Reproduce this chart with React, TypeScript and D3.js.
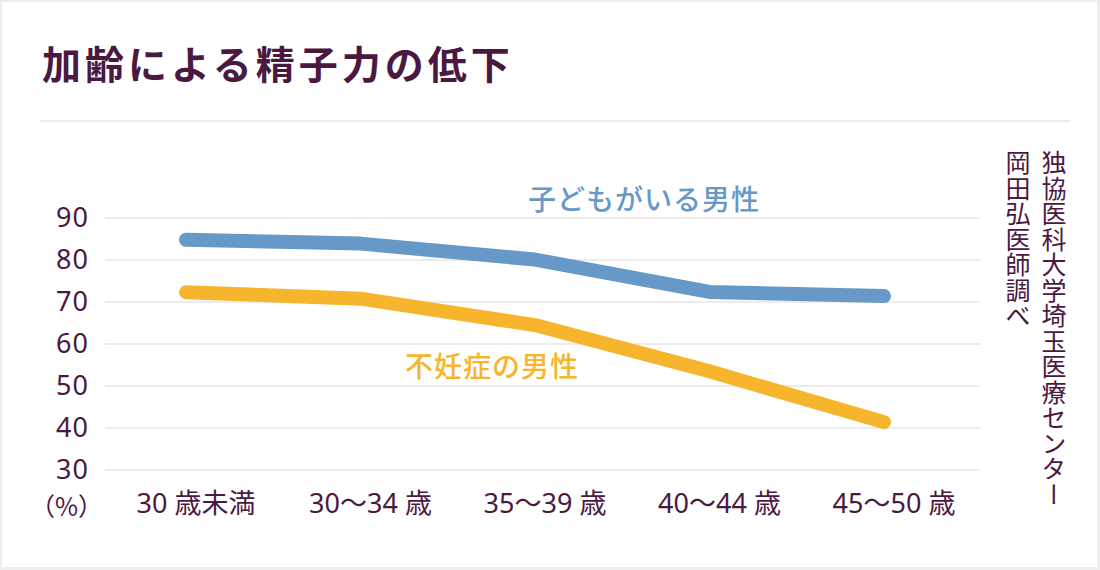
import React from "react";
import * as d3 from "d3";

const categories = ["30 歳未満", "30〜34 歳", "35〜39 歳", "40〜44 歳", "45〜50 歳"];
const fatherValues = [84.8, 83.9, 80.1, 72.4, 71.4];
const infertileValues = [72.3, 70.8, 64.5, 53.5, 41.4];
const yTicks = [30, 40, 50, 60, 70, 80, 90];
const seriesNames = ["子どもがいる男性", "不妊症の男性"];
const titleText = "加齢による精子力の低下";
const sourceLines = ["独協医科大学埼玉医療センター", "岡田弘医師調べ"];
const unitLabel = "（%）";

const W = 1100;
const H = 570;
const TEXT = "#4a1942";
const BLUE = "#6699c7";
const YELLOW = "#f7b52e";
const GRID = "#ececec";
const FONT = "'Noto Sans CJK JP', 'Noto Sans', sans-serif";
const NUM_FONT = "'Noto Sans', 'Noto Sans CJK JP', sans-serif";

export default function App() {
  const x = d3.scalePoint<string>().domain(categories).range([186, 884]);
  const y = d3.scaleLinear().domain([30, 90]).range([470, 218]);
  const line = d3
    .line<number>()
    .x((_, i) => x(categories[i]) as number)
    .y((d) => y(d));

  return (
    <svg
      width={W}
      height={H}
      style={{ position: "absolute", left: 0, top: 0, display: "block" }}
      fontFamily={FONT}
    >
      <rect x={0} y={0} width={W} height={H} fill="#eeeeee" />
      <rect x={2} y={2} width={1095} height={565} fill="#ffffff" />

      <text x={42} y={79} fontSize={39} fontWeight={700} fill={TEXT} letterSpacing={4}>
        {titleText}
      </text>
      <line x1={40} x2={1070} y1={121} y2={121} stroke={GRID} strokeWidth={2} />

      {yTicks.map((t) => (
        <g key={t}>
          <line x1={105} x2={980} y1={y(t)} y2={y(t)} stroke={GRID} strokeWidth={2} />
          <text
            x={89}
            y={y(t) + 9}
            textAnchor="end"
            fontSize={27}
            fontFamily={NUM_FONT}
            letterSpacing={1}
            fill={TEXT}
          >
            {t}
          </text>
        </g>
      ))}
      <text x={30} y={516} fontSize={25} fill={TEXT}>
        {unitLabel}
      </text>

      {categories.map((c) => (
        <text
          key={c}
          x={(x(c) as number) + 10}
          y={513}
          textAnchor="middle"
          fontSize={27}
          fontFamily={NUM_FONT}
          fill={TEXT}
        >
          {c}
        </text>
      ))}

      <path
        d={line(fatherValues) || ""}
        fill="none"
        stroke={BLUE}
        strokeWidth={14}
        strokeLinecap="round"
        strokeLinejoin="round"
      />
      <path
        d={line(infertileValues) || ""}
        fill="none"
        stroke={YELLOW}
        strokeWidth={14}
        strokeLinecap="round"
        strokeLinejoin="round"
      />

      <text x={528} y={210} fontSize={28} fontWeight={500} fill={BLUE} letterSpacing={1}>
        {seriesNames[0]}
      </text>
      <text x={405} y={377} fontSize={28} fontWeight={500} fill={YELLOW} letterSpacing={1}>
        {seriesNames[1]}
      </text>

      {sourceLines.map((s, i) => (
        <text
          key={s}
          x={1054 - i * 36}
          y={150}
          fontSize={25}
          fill={TEXT}
          style={{ writingMode: "vertical-rl" as any }}
          letterSpacing={0.5}
        >
          {s}
        </text>
      ))}
    </svg>
  );
}
